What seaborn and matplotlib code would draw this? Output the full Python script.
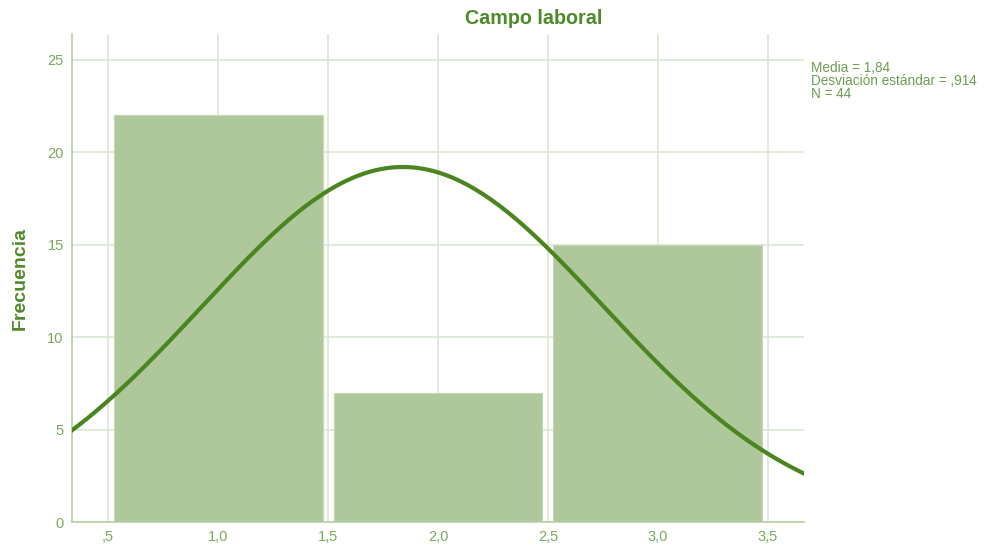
import numpy as np
import pandas as pd
import matplotlib
matplotlib.use("Agg")
import matplotlib.pyplot as plt
import seaborn as sns

# ----------------------------
# Data
# ----------------------------
categories = [1, 2, 3]
counts = [22, 7, 15]
x_ticks = [0.5, 1.0, 1.5, 2.0, 2.5, 3.0, 3.5]
x_tick_labels = [",5", "1,0", "1,5", "2,0", "2,5", "3,0", "3,5"]
y_ticks = [0, 5, 10, 15, 20, 25]
mean_val = 1.84
sd_val = 0.914
n_val = 44

df = pd.DataFrame({"valor": categories, "n": counts})

# ----------------------------
# Style
# ----------------------------
sns.set_theme(style="white")
plt.rcParams["font.family"] = ["Liberation Sans", "DejaVu Sans"]

bar_color = "#aec89b"
line_color = "#4a8520"
grid_color = "#dce8d2"
spine_color = "#b7cfa3"
tick_color = "#7ca95d"
text_color = "#6f9d50"
title_color = "#4f8a2a"

fig = plt.figure(figsize=(9.84, 5.46), dpi=100)
ax = fig.add_axes([72 / 984, 24 / 546, 732 / 984, 488 / 546])

# ----------------------------
# Histogram
# ----------------------------
sns.histplot(data=df, x="valor", weights="n", bins=[0.5, 1.5, 2.5, 3.5],
             shrink=0.95, color=bar_color, alpha=1, edgecolor="#c5d8b6",
             linewidth=0.8, ax=ax, zorder=2)

# normal curve from reported mean / sd / N
xs = np.linspace(0.3, 3.7, 300)
ys = n_val * 1.0 * np.exp(-0.5 * ((xs - mean_val) / sd_val) ** 2) / (sd_val * np.sqrt(2 * np.pi))
sns.lineplot(x=xs, y=ys, color=line_color, linewidth=3, ax=ax, zorder=3)

ax.set_xlim(0.336, 3.664)
ax.set_ylim(0, 26.4)
ax.set_xticks(x_ticks)
ax.set_xticklabels(x_tick_labels)
ax.set_yticks(y_ticks)
ax.tick_params(axis="both", colors=tick_color, labelsize=10.5, length=0, pad=6)
ax.set_axisbelow(True)
ax.grid(True, color=grid_color, linewidth=1.2)
for s in ["top", "right"]:
    ax.spines[s].set_visible(False)
for s in ["left", "bottom"]:
    ax.spines[s].set_color(spine_color)
    ax.spines[s].set_linewidth(1.2)

ax.set_xlabel("")
ax.set_ylabel("Frecuencia", color=title_color, fontsize=14, fontweight="bold", labelpad=13)

fig.text(534 / 984, 1 - 19 / 546, "Campo laboral", ha="center", va="center",
         color=title_color, fontsize=14.2, fontweight="bold")
fig.text(811 / 984, 1 - 61 / 546,
         "Media = 1,84\nDesviación estándar = ,914\nN = 44",
         ha="left", va="top", color=text_color, fontsize=9.8, linespacing=0.9)

plt.savefig("out.png", dpi=100)
